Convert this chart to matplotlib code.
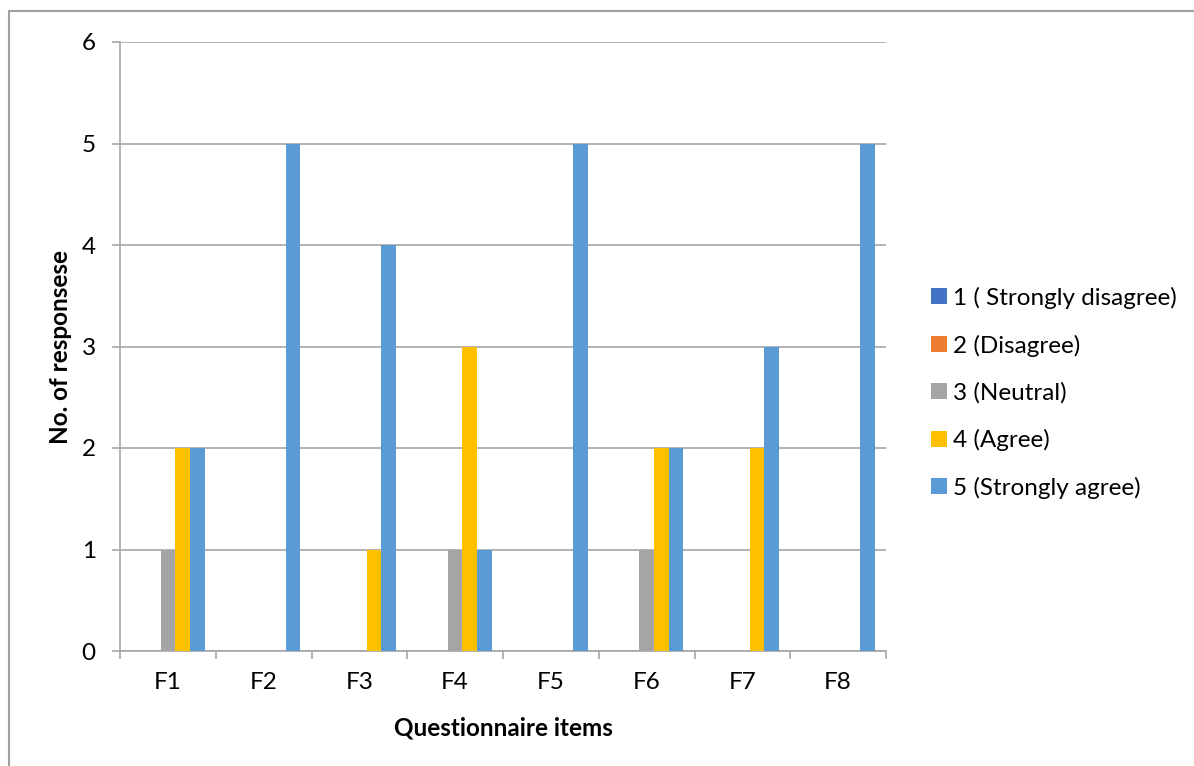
import matplotlib
matplotlib.use("Agg")
import matplotlib.pyplot as plt
import numpy as np
from matplotlib.patches import Rectangle

# ---------------------------------------------------------------------------
# Data
# ---------------------------------------------------------------------------
items = ["F1", "F2", "F3", "F4", "F5", "F6", "F7", "F8"]
series_names = ["1 ( Strongly disagree)", "2 (Disagree)", "3 (Neutral)",
                "4 (Agree)", "5 (Strongly agree)"]
strongly_disagree = [0, 0, 0, 0, 0, 0, 0, 0]
disagree          = [0, 0, 0, 0, 0, 0, 0, 0]
neutral           = [1, 0, 0, 1, 0, 1, 0, 0]
agree             = [2, 0, 1, 3, 0, 2, 2, 0]
strongly_agree    = [2, 5, 4, 1, 5, 2, 3, 5]

colors = ["#4472C4", "#ED7D31", "#A5A5A5", "#FFC000", "#5B9BD5"]
GRID = "#A6A6A6"
FS = 17.5

plt.rcParams["font.family"] = ["Lato", "DejaVu Sans"]

fig = plt.figure(figsize=(11.94, 7.66), dpi=100)
ax = fig.add_axes([120 / 1194, 1 - 651 / 766, 766 / 1194, 609 / 766])

# Excel-like clustered columns: gap width 150 %
n = len(series_names)
bar_w = 1.0 / (n + 1.5)
x = np.arange(len(items))
all_series = [strongly_disagree, disagree, neutral, agree, strongly_agree]
for i, (vals, name, c) in enumerate(zip(all_series, series_names, colors)):
    offs = (i - (n - 1) / 2) * bar_w
    ax.bar(x + offs, vals, width=bar_w, color=c, label=name,
           linewidth=0, zorder=3)

ax.set_xlim(-0.5, len(items) - 0.5)
ax.set_ylim(0, 6)

# gridlines
ax.set_yticks(range(0, 7))
ax.yaxis.grid(True, color=GRID, linewidth=1.2, zorder=0)
ax.tick_params(axis="y", length=5.5, width=1.2, color=GRID, labelsize=FS,
               pad=12)

# x: tick marks on category boundaries, labels at centres
ax.set_xticks(np.arange(-0.5, len(items)), minor=False)
ax.set_xticklabels([])
ax.set_xticks(x, minor=True)
ax.set_xticklabels(items, minor=True)
ax.tick_params(axis="x", which="major", length=6, width=1.2, color=GRID)
ax.tick_params(axis="x", which="minor", length=0, labelsize=FS, pad=15)

for s in ["top", "right"]:
    ax.spines[s].set_visible(False)
for s in ["left", "bottom"]:
    ax.spines[s].set_color(GRID)
    ax.spines[s].set_linewidth(1.2)

ax.set_xlabel("Questionnaire items", fontsize=FS, fontweight="bold",
              labelpad=17)
ax.set_ylabel("No. of responsese", fontsize=FS, fontweight="bold",
              labelpad=7)

leg = ax.legend(loc="center left", bbox_to_anchor=(1.03, 0.424),
                frameon=False, fontsize=FS, handlelength=0.65,
                handleheight=0.65, handletextpad=0.25, labelspacing=1.05)

# outer chart border
fig.patches.append(Rectangle((9 / 1194, -0.05), 1.2, 1 - 11 / 766 + 0.05,
                             transform=fig.transFigure, fill=False,
                             edgecolor="#A0A0A0", linewidth=1.5))

fig.savefig("out.png", dpi=100)
